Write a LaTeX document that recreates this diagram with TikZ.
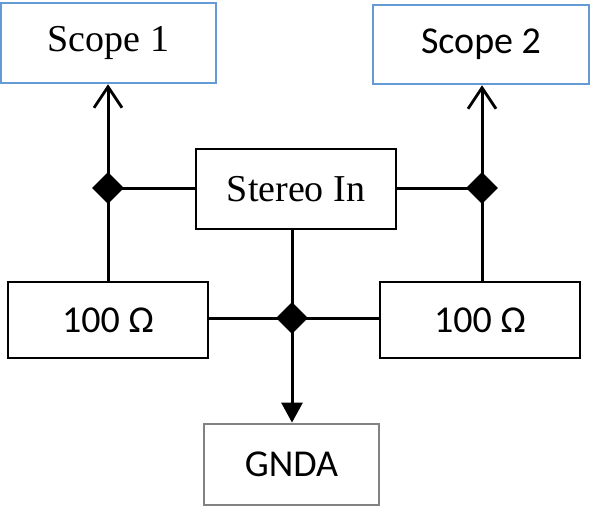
\documentclass[tikz,border=0pt]{standalone}
\usepackage{fontspec}
\setmainfont{Liberation Serif}
\newfontfamily\calib{Carlito}
\usetikzlibrary{arrows.meta,shapes.geometric}
\definecolor{scopeblue}{RGB}{100,155,212}
\definecolor{gndgray}{RGB}{130,130,130}
\begin{document}
\begin{tikzpicture}[x=1pt,y=-1pt,
  box/.style={draw=black,line width=2.8pt,inner sep=0pt,rectangle,font=\fontsize{38}{41}\selectfont},
  sbox/.style={box,draw=scopeblue,line width=2.5pt},
  gbox/.style={box,draw=gndgray,line width=2.8pt},
  junc/.style={diamond,fill=black,inner sep=0pt,minimum width=32pt,minimum height=32pt},
  wire/.style={line width=3pt},
  uparr/.style={wire,-{Straight Barb[length=21pt,width=28pt,line width=2.8pt]}},
  dnarr/.style={wire,-{Triangle[length=20pt,width=21pt]}}]
\useasboundingbox (0,0) rectangle (591,506);
\node[sbox,minimum width=215pt,minimum height=80pt] (s1) at (108.5,43) {Scope 1};
\node[sbox,minimum width=216pt,minimum height=79pt] (s2) at (481,44.5) {\calib Scope 2};
\node[box,minimum width=200pt,minimum height=80pt] (st) at (296,189) {Stereo In};
\node[box,minimum width=200pt,minimum height=76pt] (rl) at (108,320) {\calib 100 Ω};
\node[box,minimum width=200pt,minimum height=76pt] (rr) at (480,320) {\calib 100 Ω};
\node[gbox,minimum width=175pt,minimum height=81pt] (gn) at (291.5,464.5) {\calib GNDA};
\node[junc] (d1) at (108,188) {};
\node[junc] (d2) at (482,188) {};
\node[junc] (d3) at (292,318) {};
\draw[wire] (rl.north -| d1) -- (d1.center);
\draw[uparr] (d1.center) -- (s1.south -| d1);
\draw[wire] (d1.center) -- (st.west |- d1);
\draw[wire] (rr.north -| d2) -- (d2.center);
\draw[uparr] (d2.center) -- (s2.south -| d2);
\draw[wire] (st.east |- d2) -- (d2.center);
\draw[wire] (st.south -| d3) -- (d3.center);
\draw[wire] (rl.east |- d3) -- (d3.center) -- (rr.west |- d3);
\draw[dnarr] (d3.center) -- (gn.north -| d3);
\end{tikzpicture}
\end{document}
